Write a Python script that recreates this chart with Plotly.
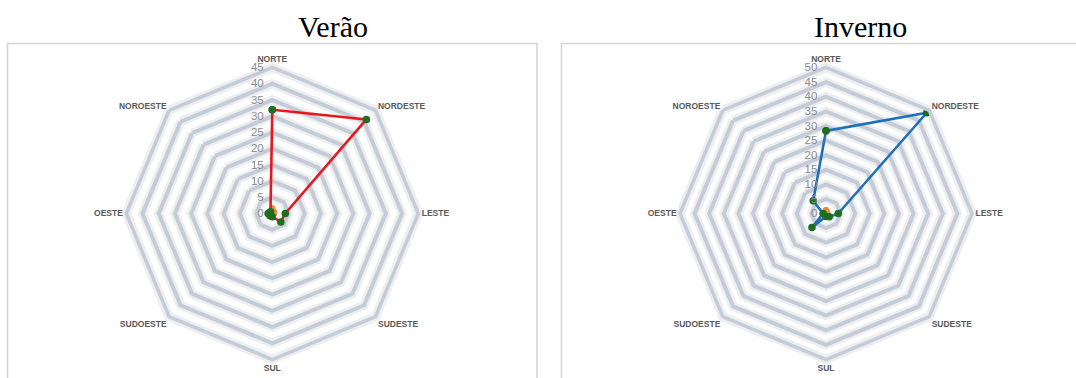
import plotly.graph_objects as go

directions = ["NORTE", "NORDESTE", "LESTE", "SUDESTE", "SUL", "SUDOESTE", "OESTE", "NOROESTE"]
verao = [32, 41, 4, 3.7, 1, 1, 1.3, 0.8]
inverno = [28.3, 48.8, 4.2, 1.6, 1, 6.8, 1, 6.2]
verao_b = [1.6, 0.8, 0.6, 0.5, 0.4, 0.4, 0.5, 0.6]
inverno_b = [1.2, 0.6, 0.5, 0.4, 0.4, 0.4, 0.4, 0.5]
titles = ["Verão", "Inverno"]
ranges = [45, 50]

W, H = 1076, 378
GRID = "#c6ccd5"
GLOW = "#eceef2"
GREEN = "#1e6e22"

def closed(v):
    return list(v) + [v[0]]

fig = go.Figure()
th = closed(directions)
for sp in ["polar", "polar2"]:
    fig.add_trace(go.Scatterpolar(r=[0], theta=[directions[0]], mode="markers", marker=dict(opacity=0),
                                  hoverinfo="skip", subplot=sp, showlegend=False))
fig.add_trace(go.Scatterpolar(r=closed(verao_b), theta=th, mode="lines+markers",
                              line=dict(color="#f08a3c", width=2), marker=dict(color="#f08a3c", size=6),
                              subplot="polar3", showlegend=False))
fig.add_trace(go.Scatterpolar(r=closed(verao), theta=th, mode="lines+markers",
                              line=dict(color="#e8171d", width=2.6), marker=dict(color=GREEN, size=7.5),
                              subplot="polar3", showlegend=False))
fig.add_trace(go.Scatterpolar(r=closed(inverno_b), theta=th, mode="lines+markers",
                              line=dict(color="#f08a3c", width=2), marker=dict(color="#f08a3c", size=6),
                              subplot="polar4", showlegend=False))
fig.add_trace(go.Scatterpolar(r=closed(inverno), theta=th, mode="lines+markers",
                              line=dict(color="#1f70b8", width=2.6), marker=dict(color=GREEN, size=7.5),
                              subplot="polar4", showlegend=False))

def polar_cfg(cx, rmax, glow):
    rad = 146
    gc = GLOW if glow else GRID
    gw = 9 if glow else 3.5
    return dict(
        domain=dict(x=[(cx - rad) / W, (cx + rad) / W], y=[(H - 213.5 - rad) / H, (H - 213.5 + rad) / H]),
        gridshape="linear",
        bgcolor="rgba(0,0,0,0)",
        radialaxis=dict(range=[0, rmax], dtick=5, showline=False, ticks="", angle=90, tickangle=90,
                        side="counterclockwise", showgrid=True, gridcolor=gc, gridwidth=gw,
                        showticklabels=not glow, ticksuffix="\u00a0\u00a0",
                        tickfont=dict(family="Liberation Sans", size=11.5, color="#8a8a8a")),
        angularaxis=dict(rotation=90, direction="clockwise", categoryorder="array", categoryarray=directions,
                         showgrid=False, showline=True, linecolor=gc, linewidth=gw, ticks="",
                         showticklabels=not glow,
                         tickfont=dict(family="Liberation Sans", size=8.5, color="#595959", weight="bold")),
    )

fig.update_layout(
    width=W, height=H, margin=dict(l=0, r=0, t=0, b=0),
    paper_bgcolor="white", template="none",
    polar=polar_cfg(272.3, ranges[0], True),
    polar2=polar_cfg(826, ranges[1], True),
    polar3=polar_cfg(272.3, ranges[0], False),
    polar4=polar_cfg(826, ranges[1], False),
    shapes=[
        dict(type="rect", xref="paper", yref="paper", x0=7.5 / W, x1=537 / W, y0=-0.02, y1=(H - 43.5) / H,
             line=dict(color="#d4d4d4", width=1.5), layer="below"),
        dict(type="rect", xref="paper", yref="paper", x0=561.5 / W, x1=1.02, y0=-0.02, y1=(H - 43.5) / H,
             line=dict(color="#d4d4d4", width=1.5), layer="below"),
    ],
    annotations=[
        dict(text=titles[0], x=333 / W, y=(H - 27) / H, xref="paper", yref="paper", showarrow=False,
             font=dict(family="Liberation Serif", size=30, color="black"), xanchor="center", yanchor="middle"),
        dict(text=titles[1], x=860 / W, y=(H - 27) / H, xref="paper", yref="paper", showarrow=False,
             font=dict(family="Liberation Serif", size=30, color="black"), xanchor="center", yanchor="middle"),
    ],
)

fig.write_html("out.html")
